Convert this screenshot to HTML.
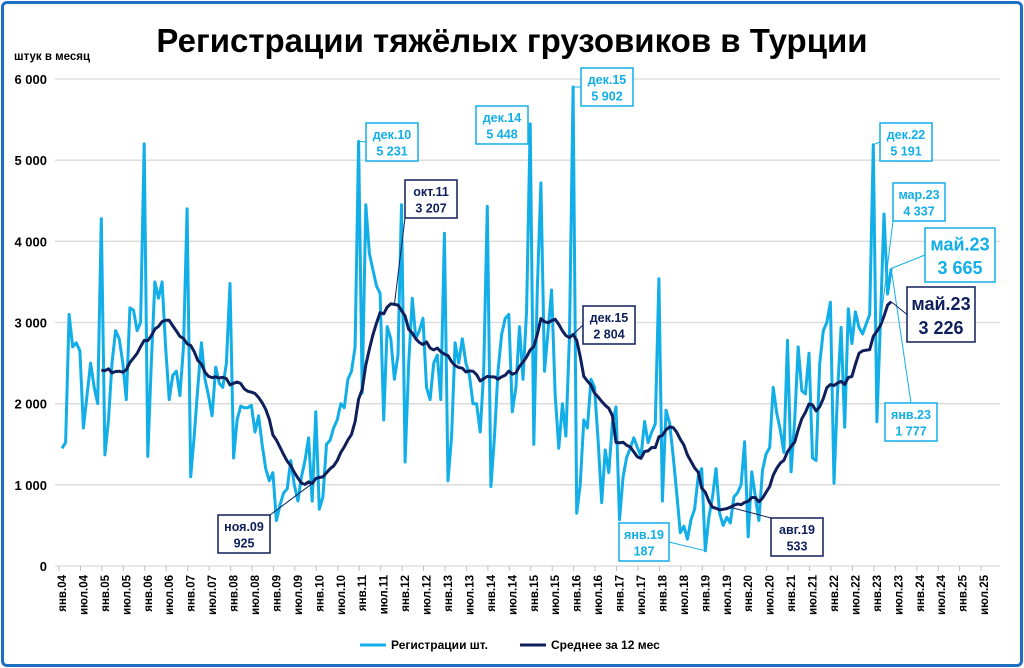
<!DOCTYPE html>
<html><head><meta charset="utf-8">
<style>
html,body{margin:0;padding:0;background:#fff;}
body{width:1024px;height:668px;overflow:hidden;font-family:"Liberation Sans",sans-serif;}
#frame{position:absolute;left:1px;top:1px;width:1016px;height:660px;border:3px solid #1e6fc4;border-radius:6px;}
</style></head>
<body>
<div id="frame"></div>
<svg id="chart" width="1024" height="668" style="position:absolute;left:0;top:0">
<text x="512" y="52" text-anchor="middle" font-size="33" font-weight="bold" fill="#000">Регистрации тяжёлых грузовиков в Турции</text>
<text x="14" y="60" font-size="11.5" font-weight="bold" fill="#000">штук в месяц</text>
</svg>
<script>
// Monthly registrations Jan 2004 .. May 2023
const startYear = 2004;
const registrations = [
1450,1520,3100,2700,2750,2650,1700,2100,2500,2200,2000,4280,
1370,1800,2500,2900,2800,2500,2050,3180,3150,2900,3000,5200,
1350,2500,3500,3300,3500,2700,2050,2350,2400,2100,2700,4400,
1100,1600,2200,2750,2300,2100,1850,2450,2250,2200,2500,3480,
1330,1800,1970,1950,1950,1980,1650,1850,1500,1200,1050,1150,
560,750,900,950,1300,1000,800,1100,1300,1580,800,1900,
700,850,1500,1550,1700,1800,2000,1950,2300,2400,2700,5231,
2130,4450,3850,3650,3450,3360,1800,2950,2800,2300,2600,4450,
1280,2500,3300,2800,2900,3050,2200,2050,2500,2600,2050,4100,
1050,1600,2750,2500,2800,2500,2350,2000,2000,1650,2400,4430,
980,1600,2400,2850,3050,3100,1900,2200,2950,2300,3150,5448,
1500,3400,4720,2400,2900,3400,2100,1450,2000,1600,2850,5902,
650,1000,1800,1700,2300,2200,1550,780,1430,1150,1760,1960,
570,1100,1340,1450,1580,1460,1350,1780,1520,1650,1750,3540,
800,1920,1760,1350,900,410,490,330,570,700,1100,1200,
187,600,850,1200,650,500,600,530,850,900,1000,1530,
360,1160,850,560,1180,1380,1460,2200,1880,1670,1400,2780,
1160,1800,2700,2160,2120,2620,1330,1300,2490,2900,3000,3250,
1020,2160,2940,1710,3170,2740,3130,2940,2860,2980,3100,5191,
1777,3000,4337,3350,3665
];
const yTicks = [0,1000,2000,3000,4000,5000,6000];
const yTickLabels = ["0","1 000","2 000","3 000","4 000","5 000","6 000"];
const monthNames = ["янв","фев","мар","апр","май","июн","июл","авг","сен","окт","ноя","дек"];
const tickLabelMonths = ["янв","июл"];
// annotations: [month index, series, label, value]
const annotIdx = [83,143,131,227,229,232];
const annotLabel = ["дек.10","дек.15","дек.14","дек.22","мар.23","янв.23"];
const annotValue = ["5 231","5 902","5 448","5 191","4 337","1 777"];
const annotBox = [[366,123],[581,68],[476,106],[880,123],[893,183],[885,403]];
const avgAnnotIdx = [70,93,143,187];
const avgAnnotLabel = ["ноя.09","окт.11","дек.15","авг.19"];
const avgAnnotValue = ["925","3 207","2 804","533"];
const avgAnnotBox = [[218,515],[405,180],[583,306],[771,518]];
const janLowIdx = 180, janLowLabel="янв.19", janLowValue="187";

const NS="http://www.w3.org/2000/svg";
const svg=document.getElementById('chart');
const X0=62, DX=3.574, Y0=566, YS=487/6000, XR=1000;
const xs=i=>X0+i*DX;
const ys=v=>Y0-v*YS;
function mk(tag,attrs,parent){const e=document.createElementNS(NS,tag);for(const k in attrs)e.setAttribute(k,attrs[k]);(parent||svg).appendChild(e);return e;}
const LIGHT="#12aee8", DARK="#0e1f5c";

// grid + y labels
yTicks.forEach((t,k)=>{
  const g=mk('line',{x1:55,x2:XR,y1:ys(t),y2:ys(t),stroke:'#d9d9d9','stroke-width':1.3});
  
  
  const tx=mk('text',{x:47,y:ys(t)+5,'text-anchor':'end','font-size':13,'font-weight':'bold',fill:'#000'});
  tx.textContent=yTickLabels[k];
  
  
});
// x ticks & labels every 6 months through Jul 2025
const nHalf=44;
for(let k=0;k<nHalf;k++){
  const i=k*6, x=xs(i);
  const tk=mk('line',{x1:x-3,x2:x-3,y1:Y0,y2:Y0+5,stroke:'#bfbfbf','stroke-width':1});
  
  
  const yr=String((startYear+Math.floor(i/12))%100).padStart(2,'0');
  const lab=mk('text',{x:0,y:0,'text-anchor':'end','font-size':11.5,'font-weight':'bold',fill:'#000',transform:`translate(${x+4},${Y0+9}) rotate(-90)`});
  lab.textContent=tickLabelMonths[k%2]+'.'+yr;
  
  
}
// rolling 12-month average
const avg=registrations.map((v,i)=>{if(i<11)return null;let s=0;for(let j=i-11;j<=i;j++)s+=registrations[j];return s/12;});
const regLine=mk('polyline',{points:registrations.map((v,i)=>xs(i).toFixed(1)+','+ys(v).toFixed(1)).join(' '),fill:'none',stroke:LIGHT,'stroke-width':3,'stroke-linejoin':'round'});


const avgLine=mk('polyline',{points:avg.map((v,i)=>v==null?null:xs(i).toFixed(1)+','+ys(v).toFixed(1)).filter(p=>p).join(' '),fill:'none',stroke:DARK,'stroke-width':3,'stroke-linejoin':'round'});



function box(bx,by,w,h,color,l1,l2,px,py,fs,name){
  const ax=px<bx?bx:(px>bx+w?bx+w:bx+w/2), ay=py<by?by:(py>by+h?by+h:by+h/2);
  const ln=mk('line',{x1:ax,y1:ay,x2:px,y2:py,stroke:color,'stroke-width':1});
  
  
  const r=mk('rect',{x:bx,y:by,width:w,height:h,fill:'#fff',stroke:color,'stroke-width':1.5});
  
  
  const t1=mk('text',{x:bx+w/2,y:by+h*0.42,'text-anchor':'middle','font-size':fs,'font-weight':'bold',fill:color});
  t1.textContent=l1;
  
  
  const t2=mk('text',{x:bx+w/2,y:by+h*0.85,'text-anchor':'middle','font-size':fs,'font-weight':'bold',fill:color});
  t2.textContent=l2;
  
  
}
annotIdx.forEach((i,k)=>box(annotBox[k][0],annotBox[k][1],52,38,LIGHT,annotLabel[k],annotValue[k],xs(i),ys(registrations[i]),12.5,'annotation-'+annotLabel[k]));
box(619,523,50,38,LIGHT,janLowLabel,janLowValue,xs(janLowIdx),ys(registrations[janLowIdx]),12.5,'annotation-low');
avgAnnotIdx.forEach((i,k)=>box(avgAnnotBox[k][0],avgAnnotBox[k][1],52,38,DARK,avgAnnotLabel[k],avgAnnotValue[k],xs(i),ys(avg[i]),12.5,'avg-annotation-'+avgAnnotLabel[k]));
const last=registrations.length-1;
box(925,228,70,54,LIGHT,'май.23','3 665',xs(last),ys(registrations[last]),18,'annotation-latest');
box(907,287,68,55,DARK,'май.23','3 226',xs(last),ys(avg[last]),18,'avg-annotation-latest');

// legend
const lg=[[360,LIGHT,'Регистрации шт.'],[520,DARK,'Среднее за 12 мес']];
lg.forEach(([x,c,t])=>{
  const l=mk('line',{x1:x,x2:x+26,y1:645,y2:645,stroke:c,'stroke-width':3});
  
  
  const tx=mk('text',{x:x+31,y:649,'font-size':12,'font-weight':'bold',fill:'#000'});
  tx.textContent=t;
  
  
});
</script>
</body></html>
